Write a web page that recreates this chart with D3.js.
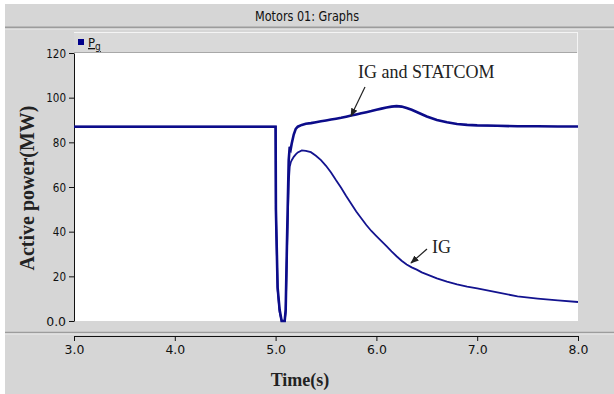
<!DOCTYPE html>
<html>
<head>
<meta charset="utf-8">
<script src="https://cdn.jsdelivr.net/npm/d3@7/dist/d3.min.js"></script>
<style>
  body { margin: 0; background: #ffffff; }
  .narrow { font-family: "Liberation Sans Narrow", "DejaVu Sans Condensed", "Arial Narrow", sans-serif; }
  .serif { font-family: "Liberation Serif", "Times New Roman", serif; }
</style>
</head>
<body>
<div id="chart"></div>
<script>
// ***** Data *****
var times = [3.0, 4.0, 4.99, 5.0, 5.003, 5.02, 5.04, 5.06, 5.09, 5.10, 5.115, 5.13, 5.14, 5.15,
  5.16, 5.18, 5.2, 5.22, 5.26, 5.3, 5.35, 5.4, 5.45, 5.5, 5.55, 5.6, 5.65, 5.7, 5.75, 5.8,
  5.85, 5.9, 5.95, 6.0, 6.05, 6.1, 6.15, 6.2, 6.25, 6.3, 6.35, 6.4, 6.45, 6.5, 6.6, 6.7,
  6.8, 6.9, 7.0, 7.2, 7.4, 7.6, 7.8, 8.0];

// IG and STATCOM
var pgStatcom = [87, 87, 87, 87, 50, 15, 5, 0, 0, 5, 40, 72, 78, 77,
  79.5, 83.5, 86, 87, 87.8, 88.3, 88.6, 89, 89.4, 89.8, 90.2, 90.6, 91, 91.5, 92, 92.5,
  93, 93.5, 94, 94.6, 95.1, 95.6, 96, 96.2, 96, 95.4, 94.6, 93.6, 92.6, 91.6, 90, 89,
  88.2, 87.8, 87.6, 87.4, 87.2, 87.2, 87.1, 87.1];

// IG only
var pgIG = [87, 87, 87, 87, 49, 14, 4, 0, 0, 4, 35, 62, 69, 71,
  72, 73.5, 74.6, 75.5, 76.4, 76.2, 75.6, 74, 72, 69.5, 66.5, 63, 59.7, 56, 52.5, 49,
  46, 43, 40.3, 38, 35.8, 33.5, 31.2, 29, 27, 25.3, 24, 23, 21.8, 20.9, 19.1, 17.6,
  16.4, 15.4, 14.6, 12.8, 11, 10, 9.2, 8.5];

var yTicks = [0, 20, 40, 60, 80, 100, 120];
var xTicks = [3, 4, 5, 6, 7, 8];

// ***** Frame *****
var svgWidth = 614;
var svgHeight = 394;

var plot = { left: 74, right: 578, top: 53, bottom: 321 };

var svg = d3.select("#chart").append("svg")
    .attr("width", svgWidth)
    .attr("height", svgHeight);

// window background
svg.append("rect").attr("x", 0).attr("y", 0).attr("width", svgWidth).attr("height", svgHeight).attr("fill", "#ffffff");
svg.append("rect").attr("x", 5).attr("y", 4).attr("width", svgWidth - 5).attr("height", svgHeight - 4).attr("fill", "#d6d6d6");

// title bar
svg.append("line").attr("x1", 5).attr("x2", svgWidth).attr("y1", 27.5).attr("y2", 27.5).attr("stroke", "#9c9c9c").attr("stroke-width", 2);
svg.append("line").attr("x1", 5).attr("x2", svgWidth).attr("y1", 29).attr("y2", 29).attr("stroke", "#ececec").attr("stroke-width", 1);
svg.append("text")
    .attr("class", "narrow")
    .attr("x", 307)
    .attr("y", 21)
    .attr("text-anchor", "middle")
    .attr("font-size", "14px")
    .attr("textLength", 104)
    .attr("lengthAdjust", "spacingAndGlyphs")
    .attr("fill", "#111")
    .text("Motors 01: Graphs");

// legend strip
svg.append("rect").attr("x", plot.left).attr("y", 32).attr("width", plot.right - plot.left).attr("height", 21)
    .attr("fill", "#d9d9d9");
svg.append("line").attr("x1", plot.left).attr("x2", plot.right).attr("y1", 32.5).attr("y2", 32.5).attr("stroke", "#f4f4f4");
svg.append("line").attr("x1", plot.left).attr("x2", plot.right).attr("y1", 52.5).attr("y2", 52.5).attr("stroke", "#a8a8a8");
svg.append("line").attr("x1", plot.right - 0.5).attr("x2", plot.right - 0.5).attr("y1", 32).attr("y2", 53).attr("stroke", "#f4f4f4");
svg.append("rect").attr("x", 78).attr("y", 39).attr("width", 6).attr("height", 6).attr("fill", "#00008b");
var legendText = svg.append("text")
    .attr("class", "narrow")
    .attr("x", 88)
    .attr("y", 47)
    .attr("font-size", "13px")
    .attr("fill", "#111")
    .attr("text-decoration", "underline");
legendText.append("tspan").text("P");
legendText.append("tspan").attr("dy", 3).attr("font-size", "10px").text("g");

// plot area
svg.append("rect").attr("x", plot.left).attr("y", plot.top).attr("width", plot.right - plot.left).attr("height", plot.bottom - plot.top)
    .attr("fill", "#ffffff");

// separator above the time axis
svg.append("line").attr("x1", 5).attr("x2", svgWidth).attr("y1", 332.5).attr("y2", 332.5).attr("stroke", "#9c9c9c").attr("stroke-width", 1.5);
svg.append("line").attr("x1", 5).attr("x2", svgWidth).attr("y1", 334).attr("y2", 334).attr("stroke", "#ececec");

// ***** Scales & axes *****
var xScale = d3.scaleLinear().domain([3, 8]).range([plot.left, plot.right]);
var yScale = d3.scaleLinear().domain([0, 120]).range([plot.bottom, plot.top]);

var leftAxis = d3.axisLeft(yScale)
    .tickValues(yTicks)
    .tickSize(5)
    .tickSizeOuter(0)
    .tickPadding(3)
    .tickFormat(function(d) { return d === 0 ? "0.0" : d; });

var bottomAxis = d3.axisBottom(xScale)
    .tickValues(xTicks)
    .tickSize(5)
    .tickSizeOuter(0)
    .tickPadding(4)
    .tickFormat(d3.format(".1f"));

var yAxis = svg.append("g")
    .attr("transform", `translate(${plot.left}, 0)`)
    .call(leftAxis);

var xAxis = svg.append("g")
    .attr("transform", "translate(0, 336)")
    .call(bottomAxis);

[xAxis, yAxis].forEach(function(ax) {
    ax.selectAll("path, line").attr("stroke", "#111");
    ax.selectAll("text")
        .attr("class", "narrow")
        .attr("font-size", "13px")
        .attr("fill", "#111")
        .attr("textLength", function() { return this.textContent.length * 6.6; })
        .attr("lengthAdjust", "spacingAndGlyphs");
});

// axis titles
svg.append("text")
    .attr("class", "serif")
    .attr("transform", "translate(34, 188) rotate(-90)")
    .attr("text-anchor", "middle")
    .attr("font-size", "20px")
    .attr("font-weight", "bold")
    .attr("fill", "#222")
    .text("Active power(MW)");

svg.append("text")
    .attr("class", "serif")
    .attr("x", 300)
    .attr("y", 386)
    .attr("text-anchor", "middle")
    .attr("font-size", "18px")
    .attr("font-weight", "bold")
    .attr("fill", "#222")
    .text("Time(s)");

// ***** Curves *****
var line = d3.line()
    .x(function(d) { return xScale(d[0]); })
    .y(function(d) { return yScale(d[1]); });

svg.append("path")
    .datum(times.map(function(t, i) { return [t, pgIG[i]]; }))
    .attr("d", line)
    .attr("fill", "none")
    .attr("stroke", "#13138f")
    .attr("stroke-width", 1.8);

svg.append("path")
    .datum(times.map(function(t, i) { return [t, pgStatcom[i]]; }))
    .attr("d", line)
    .attr("fill", "none")
    .attr("stroke", "#0c0c8a")
    .attr("stroke-width", 2.6);

// ***** Annotations *****
svg.append("defs").append("marker")
    .attr("id", "arrowhead")
    .attr("viewBox", "0 0 10 10")
    .attr("refX", 9)
    .attr("refY", 5)
    .attr("markerWidth", 7)
    .attr("markerHeight", 7)
    .attr("orient", "auto")
    .append("path")
    .attr("d", "M0,1 L10,5 L0,9 Z")
    .attr("fill", "#222");

svg.append("text")
    .attr("class", "serif")
    .attr("x", 358)
    .attr("y", 78)
    .attr("font-size", "18px")
    .attr("fill", "#222")
    .text("IG and STATCOM");

svg.append("line")
    .attr("x1", 365).attr("y1", 87)
    .attr("x2", 351).attr("y2", 116)
    .attr("stroke", "#222")
    .attr("stroke-width", 1.2)
    .attr("marker-end", "url(#arrowhead)");

svg.append("text")
    .attr("class", "serif")
    .attr("x", 432)
    .attr("y", 253)
    .attr("font-size", "18px")
    .attr("fill", "#222")
    .text("IG");

svg.append("line")
    .attr("x1", 427).attr("y1", 249)
    .attr("x2", 411).attr("y2", 263)
    .attr("stroke", "#222")
    .attr("stroke-width", 1.2)
    .attr("marker-end", "url(#arrowhead)");
</script>
</body>
</html>
